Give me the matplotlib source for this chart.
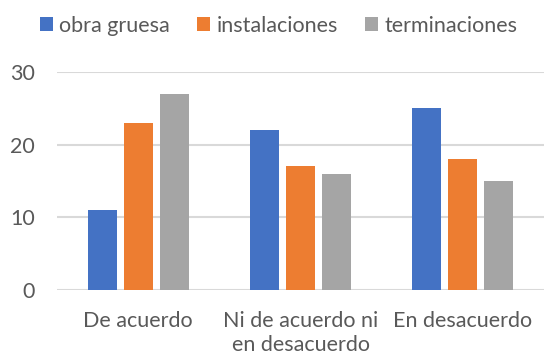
import matplotlib
matplotlib.use("Agg")
import matplotlib.pyplot as plt
import numpy as np

categories = ["De acuerdo", "Ni de acuerdo ni\nen desacuerdo", "En desacuerdo"]
series_names = ["obra gruesa", "instalaciones", "terminaciones"]
obra_gruesa = [11, 22, 25]
instalaciones = [23, 17, 18]
terminaciones = [27, 16, 15]
yticks = [0, 10, 20, 30]

colors = ["#4472C4", "#ED7D31", "#A5A5A5"]
text_color = "#595959"

plt.rcParams["font.family"] = ["Lato", "DejaVu Sans"]

fig = plt.figure(figsize=(5.44, 3.62), dpi=100)
ax = fig.add_axes([0.1048, 0.199, 0.8952, 0.602])

x = np.arange(len(categories))
width = 0.18
offsets = [-0.222, 0, 0.222]
for vals, name, col, off in zip([obra_gruesa, instalaciones, terminaciones],
                                series_names, colors, offsets):
    ax.bar(x + off, vals, width, color=col, label=name, zorder=3)

ax.set_xlim(-0.5, 2.5)
ax.set_ylim(0, 30)
ax.set_yticks(yticks)
ax.set_xticks(x)
ax.set_xticklabels(categories, fontsize=15.5, color=text_color, linespacing=1.25)
ax.tick_params(axis="y", labelsize=15.5, labelcolor=text_color, length=0, pad=16)
ax.tick_params(axis="x", length=0, pad=15)
ax.grid(axis="y", color="#D9D9D9", linewidth=1.5, zorder=0)
for s in ax.spines.values():
    s.set_visible(False)

leg = fig.legend(loc="upper center", bbox_to_anchor=(0.512, 1.01), ncol=3,
                 frameon=False, fontsize=15.5, handlelength=0.6, handleheight=0.6,
                 handletextpad=0.3, columnspacing=1.25)
for t in leg.get_texts():
    t.set_color(text_color)

fig.savefig("out.png", dpi=100)
